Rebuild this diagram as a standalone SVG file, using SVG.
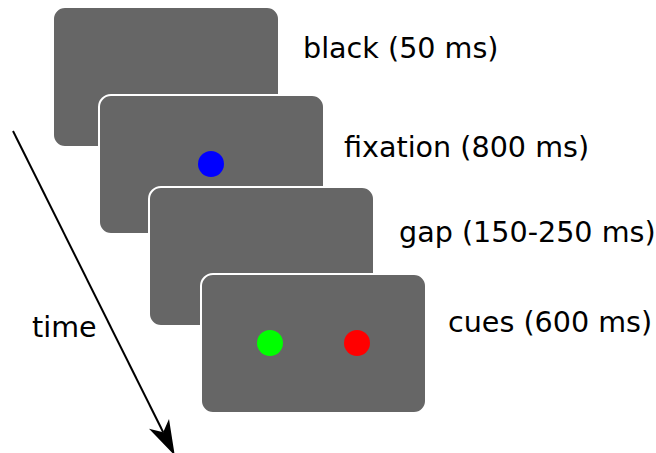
<svg xmlns="http://www.w3.org/2000/svg" width="656" height="453" viewBox="0 0 656 453">
  <style>
    .screen { fill: #666666; stroke: #ffffff; stroke-width: 2; }
    .label { font-family: "DejaVu Sans", sans-serif; font-size: 28.6px; fill: #000000; }
  </style>
  <defs>
    <marker id="arrowhead" markerUnits="userSpaceOnUse" markerWidth="40" markerHeight="30" viewBox="-10 -12 34 24" refX="0" refY="0" orient="auto">
      <path d="M22,0 L-8,-9.5 L0,0 L-8,9.5 Z" fill="#000000"/>
    </marker>
  </defs>
  <rect width="656" height="453" fill="#ffffff"/>
  <g id="connectors">
    <line x1="13" y1="131" x2="163.2" y2="432.3" stroke="#000000" stroke-width="2" marker-end="url(#arrowhead)"/>
  </g>
  <g id="screen-black">
    <rect class="screen" x="53" y="7" width="226" height="140" rx="12"/>
  </g>
  <g id="screen-fixation">
    <rect class="screen" x="99" y="95" width="225" height="139" rx="12"/>
    <circle cx="211" cy="164" r="13" fill="#0000ff"/>
  </g>
  <g id="screen-gap">
    <rect class="screen" x="149" y="187" width="225" height="139" rx="12"/>
  </g>
  <g id="screen-cues">
    <rect class="screen" x="201" y="274" width="225" height="139" rx="12"/>
    <circle cx="270" cy="343" r="13" fill="#00ff00"/>
    <circle cx="357" cy="343" r="13" fill="#ff0000"/>
  </g>
  <g id="labels">
    <text class="label" x="303" y="58">black (50 ms)</text>
    <text class="label" x="344" y="157">fixation (800 ms)</text>
    <text class="label" x="399" y="242">gap (150-250 ms)</text>
    <text class="label" x="448" y="332">cues (600 ms)</text>
    <text class="label" x="32" y="337">time</text>
  </g>
</svg>
